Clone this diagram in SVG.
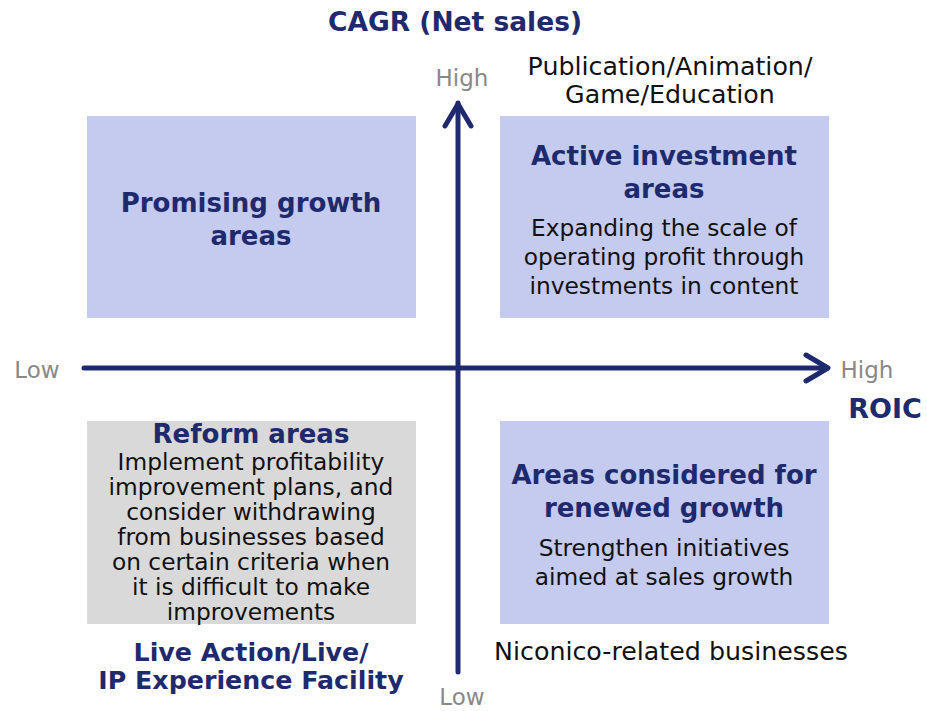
<svg xmlns="http://www.w3.org/2000/svg" width="927" height="711" viewBox="0 0 927 711">
  <style>
    text { font-family: "DejaVu Sans", Verdana, sans-serif; text-anchor: middle; }
    .title { font-size: 26.5px; font-weight: bold; fill: #1f2a6e; }
    .roic { font-size: 27px; font-weight: bold; fill: #1f2a6e; }
    .tick { font-size: 23px; fill: #888888; }
    .head { font-size: 26px; font-weight: bold; fill: #1f2a6e; }
    .label { font-size: 25.3px; font-weight: bold; fill: #1f2a6e; }
    .body { font-size: 23.3px; fill: #111111; }
    .biz { font-size: 25.3px; fill: #111111; }
    .box { fill: #c5caef; }
    .box-grey { fill: #d9d9d9; }
    .axis { stroke: #1f2a6e; stroke-width: 5; fill: none; stroke-linecap: round; stroke-linejoin: round; }
  </style>

  <!-- axis labels -->
  <text class="title" x="455" y="31">CAGR (Net sales)</text>
  <text class="tick" x="462" y="86">High</text>
  <text class="tick" x="462" y="705">Low</text>
  <text class="tick" x="37" y="378">Low</text>
  <text class="tick" x="867" y="378">High</text>
  <text class="roic" x="885" y="418">ROIC</text>

  <!-- quadrants -->
  <g id="promising-growth">
    <rect class="box" x="87" y="116" width="329" height="202"/>
    <text class="head" x="251" y="212">Promising growth</text>
    <text class="head" x="251" y="245">areas</text>
  </g>

  <g id="active-investment">
    <rect class="box" x="500" y="116" width="329" height="202"/>
    <text class="head" x="664" y="165">Active investment</text>
    <text class="head" x="664" y="198">areas</text>
    <text class="body" x="664" y="236">Expanding the scale of</text>
    <text class="body" x="664" y="265">operating profit through</text>
    <text class="body" x="664" y="294">investments in content</text>
  </g>

  <g id="reform">
    <rect class="box-grey" x="87" y="421" width="329" height="203"/>
    <text class="head" x="251" y="443">Reform areas</text>
    <text class="body" x="251" y="470">Implement profitability</text>
    <text class="body" x="251" y="495">improvement plans, and</text>
    <text class="body" x="251" y="520">consider withdrawing</text>
    <text class="body" x="251" y="545">from businesses based</text>
    <text class="body" x="251" y="570">on certain criteria when</text>
    <text class="body" x="251" y="595">it is difficult to make</text>
    <text class="body" x="251" y="620">improvements</text>
  </g>

  <g id="renewed-growth">
    <rect class="box" x="500" y="421" width="329" height="203"/>
    <text class="head" x="664" y="484">Areas considered for</text>
    <text class="head" x="664" y="517">renewed growth</text>
    <text class="body" x="664" y="556">Strengthen initiatives</text>
    <text class="body" x="664" y="585">aimed at sales growth</text>
  </g>

  <!-- business labels -->
  <g id="label-publication">
    <text class="biz" x="670" y="75">Publication/Animation/</text>
    <text class="biz" x="670" y="103">Game/Education</text>
  </g>
  <g id="label-live">
    <text class="label" x="251" y="661">Live Action/Live/</text>
    <text class="label" x="251" y="689">IP Experience Facility</text>
  </g>
  <g id="label-niconico">
    <text class="biz" x="671" y="660">Niconico-related businesses</text>
  </g>

  <!-- axes -->
  <g id="connectors">
    <line class="axis" x1="458" y1="672" x2="458" y2="103"/>
    <polyline class="axis" points="445,126 458,104 471,126"/>
    <line class="axis" x1="84" y1="368" x2="827" y2="368"/>
    <polyline class="axis" points="806,355 828,368 806,381"/>
  </g>
</svg>
